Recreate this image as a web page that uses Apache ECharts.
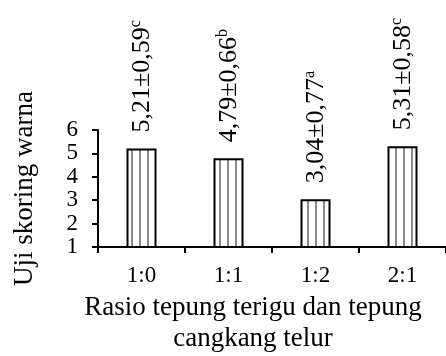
<!DOCTYPE html>
<html><head><meta charset="utf-8">
<script src="https://cdn.jsdelivr.net/npm/echarts@6/dist/echarts.min.js"></script>
<style>html,body{margin:0;padding:0;background:#fff}#c{width:446px;height:356px}</style>
</head><body><div id="c"></div>
<script>
const categories = ['1:0', '1:1', '1:2', '2:1'];
const values = [5.21, 4.79, 3.04, 5.31];
const sdValues = ['0,59', '0,66', '0,77', '0,58'];
const letters = ['c', 'b', 'a', 'c'];
const yTicks = [1, 2, 3, 4, 5, 6];

const FONT = '"Liberation Serif", "Times New Roman", serif';

function makePattern() {
  const c = document.createElement('canvas');
  c.width = 8; c.height = 8;
  const g = c.getContext('2d');
  g.fillStyle = '#fff'; g.fillRect(0, 0, 8, 8);
  g.fillStyle = '#8a8a8a'; g.fillRect(3, 0, 2, 8);
  return c;
}

const chart = echarts.init(document.getElementById('c'), null, {renderer: 'canvas'});
chart.setOption({
  animation: false,
  backgroundColor: '#fff',
  grid: {left: 98, top: 130, width: 351, bottom: 109, containLabel: false},
  xAxis: {
    type: 'category', data: categories,
    axisLine: {lineStyle: {color: '#000', width: 2}},
    axisTick: {show: true, length: 6, lineStyle: {color: '#000', width: 2}},
    axisLabel: {color: '#000', fontFamily: FONT, fontSize: 23, margin: 17}
  },
  yAxis: {
    type: 'value', min: yTicks[0], max: yTicks[yTicks.length - 1], interval: 1,
    name: 'Uji skoring warna', nameLocation: 'middle', nameRotate: 90, nameGap: 60,
    nameTextStyle: {color: '#000', fontFamily: FONT, fontSize: 27},
    axisLine: {show: true, lineStyle: {color: '#000', width: 2}},
    axisTick: {show: true, length: 6, lineStyle: {color: '#000', width: 2}},
    splitLine: {show: false},
    axisLabel: {color: '#000', fontFamily: FONT, fontSize: 23, margin: 20}
  },
  series: [{
    type: 'bar', data: values, barWidth: 30,
    itemStyle: {color: {image: makePattern(), repeat: 'repeat'}, borderColor: '#000', borderWidth: 2},
    label: {
      show: true, position: 'top', rotate: 90, align: 'left', verticalAlign: 'middle', distance: 16,
      formatter: p => '{v|' + values[p.dataIndex].toFixed(2).replace('.', ',') + '±' + sdValues[p.dataIndex] + '}{s|' + letters[p.dataIndex] + '}',
      rich: {
        v: {fontFamily: FONT, fontSize: 26, color: '#000', verticalAlign: 'bottom', lineHeight: 28},
        s: {fontFamily: FONT, fontSize: 16, color: '#000', verticalAlign: 'top', lineHeight: 28}
      }
    }
  }],
  graphic: [
    {type: 'text', style: {text: 'Rasio tepung terigu dan tepung', x: 253, y: 308, align: 'center', verticalAlign: 'middle', fontFamily: FONT, fontSize: 27, fill: '#000'}},
    {type: 'text', style: {text: 'cangkang telur', x: 253, y: 339, align: 'center', verticalAlign: 'middle', fontFamily: FONT, fontSize: 27, fill: '#000'}}
  ]
});
</script></body></html>
